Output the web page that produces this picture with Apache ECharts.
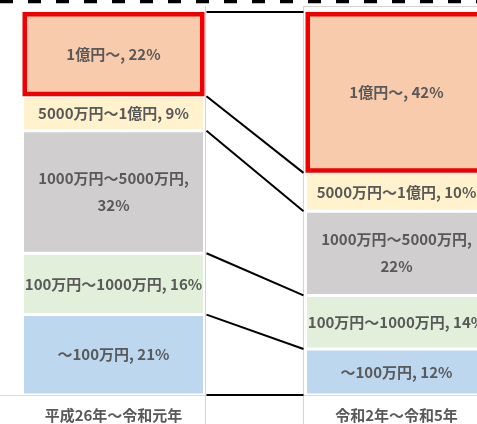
<!DOCTYPE html>
<html>
<head>
<meta charset="utf-8">
<script src="https://cdn.jsdelivr.net/npm/echarts@6/dist/echarts.min.js"></script>
<style>
  html, body { margin: 0; padding: 0; background: #fff; overflow: hidden; }
  body { width: 477px; height: 424px; position: relative; }
  /* 元の図は右側が切れているので、描画領域を左右にはみ出させる */
  #chart { position: absolute; left: -28px; top: 0; width: 566px; height: 424px; }
</style>
</head>
<body>
<div id="chart"></div>
<script>
// 期間（カテゴリ）
const periods = ["平成26年～令和元年", "令和2年～令和5年"];
// 金額帯（下から順に積み上げ）
const tiers = ["～100万円", "100万円～1000万円", "1000万円～5000万円", "5000万円～1億円", "1億円～"];
// 構成比（%）
const sharePeriod1 = [21, 16, 32, 9, 22];
const sharePeriod2 = [12, 14, 22, 10, 42];

const tierColors = ["#BDD7EE", "#E2EFDA", "#D0CECE", "#FFF2CC", "#F8CBAD"];
const barWidth = 182;
const offsetX = 28; // コンテナのはみ出し分
const font = "'Noto Sans CJK JP', 'Noto Sans', sans-serif";

// 境界線（累積値）
const boundaries = [];
let c1 = 0, c2 = 0;
for (let i = 0; i <= tiers.length; i++) {
  boundaries.push([0, c1, c2]);
  if (i < tiers.length) {
    c1 += sharePeriod1[i];
    c2 += sharePeriod2[i];
  }
}

const barSeries = tiers.map(function (tier, i) {
  const top = i === tiers.length - 1;
  return {
    name: tier,
    type: "bar",
    stack: "total",
    barWidth: barWidth,
    data: [sharePeriod1[i], sharePeriod2[i]],
    z: top ? 3 : 2,
    itemStyle: {
      color: tierColors[i],
      borderColor: top ? "#F00000" : "#ffffff",
      borderWidth: top ? 4.5 : 1.5
    },
    label: {
      show: true,
      position: "inside",
      color: "#595959",
      fontFamily: font,
      fontWeight: "bold",
      fontSize: 15,
      lineHeight: 27,
      formatter: function (p) {
        // 長い帯名はカンマの後で改行
        return i === 2 ? tier + ",\n" + p.value + "%" : tier + ", " + p.value + "%";
      }
    }
  };
});

function vline(x) {
  return {
    type: "line",
    shape: { x1: x + offsetX, y1: 6, x2: x + offsetX, y2: 424 },
    style: { stroke: "#D4D4D4", lineWidth: 1 },
    z: 0
  };
}

const chart = echarts.init(document.getElementById("chart"));
chart.setOption({
  animation: false,
  backgroundColor: "#ffffff",
  grid: { left: 0, right: 0, top: 12, bottom: 29 },
  xAxis: {
    type: "category",
    data: periods,
    axisLine: { lineStyle: { color: "#D9D9D9", width: 1 } },
    axisTick: { show: false },
    axisLabel: {
      color: "#595959",
      fontFamily: font,
      fontWeight: "bold",
      fontSize: 15,
      margin: 13
    }
  },
  yAxis: { type: "value", min: 0, max: 100, show: false },
  graphic: [
    // 上部の破線
    {
      type: "line",
      shape: { x1: offsetX, y1: 1.5, x2: offsetX + 477, y2: 1.5 },
      style: { stroke: "#000", lineWidth: 3.5, lineDash: [13, 15] },
      z: 10
    },
    // 表の罫線
    vline(205.5),
    vline(303.5),
    {
      type: "line",
      shape: { x1: offsetX + 303, y1: 6.5, x2: offsetX + 477, y2: 6.5 },
      style: { stroke: "#D4D4D4", lineWidth: 1 },
      z: 0
    }
  ],
  series: barSeries.concat([
    {
      type: "custom",
      name: "connector",
      data: boundaries,
      encode: { x: 0, y: [1, 2] },
      z: 10,
      silent: true,
      renderItem: function (params, api) {
        const p0 = api.coord([0, api.value(1)]);
        const p1 = api.coord([1, api.value(2)]);
        return {
          type: "line",
          shape: {
            x1: p0[0] + barWidth / 2 + 2,
            y1: p0[1],
            x2: p1[0] - barWidth / 2 - 2,
            y2: p1[1]
          },
          style: { stroke: "#000", lineWidth: 2 }
        };
      }
    }
  ])
});
</script>
</body>
</html>
